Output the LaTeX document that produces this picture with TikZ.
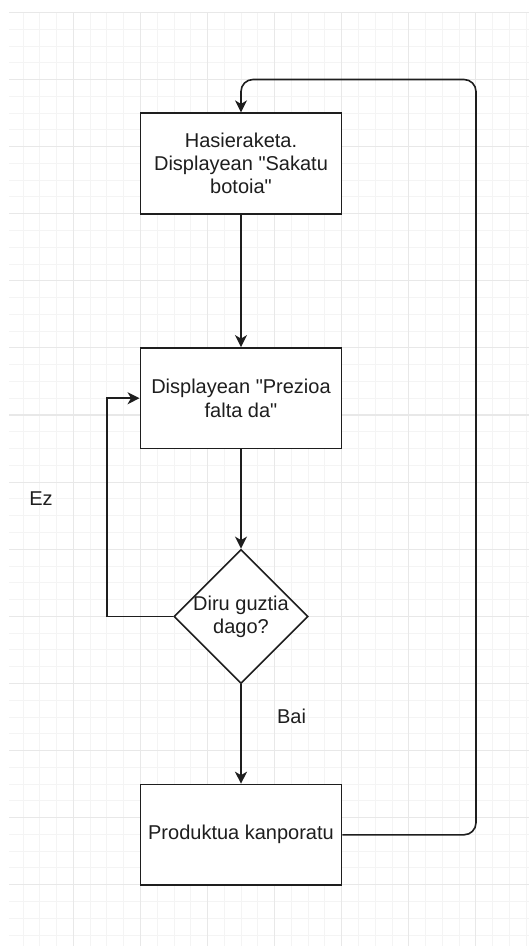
\documentclass[tikz,border=0pt]{standalone}
\usepackage{fontspec}
\setmainfont{Liberation Sans}
\newfontfamily\lsans{Liberation Sans}
\usetikzlibrary{arrows.meta,shapes.geometric}
\definecolor{gridminor}{HTML}{F4F4F4}
\definecolor{gridmajor}{HTML}{E8E8E8}
\definecolor{ink}{HTML}{1E1E1E}
\tikzset{
  gminor/.style={draw=gridminor, line width=0.9pt},
  gmajor/.style={draw=gridmajor, line width=1.1pt},
  boxstyle/.style={draw=ink, line width=1.6pt, fill=white, rectangle,
    minimum width=201.3pt, minimum height=100.6pt, inner sep=0pt,
    align=center, text=ink, font=\lsans\fontsize{20}{23.3}\selectfont},
  diastyle/.style={draw=ink, line width=1.6pt, fill=white, diamond,
    minimum width=134.2pt, minimum height=134.2pt, inner sep=0pt},
  txt/.style={align=center, text=ink, inner sep=0pt, font=\lsans\fontsize{20}{23.3}\selectfont},
  conn/.style={draw=ink, line width=1.6pt, -{Stealth[length=12pt,width=12pt,inset=3.5pt]}},
}
\begin{document}
\begin{tikzpicture}[x=1pt,y=-1pt]
\useasboundingbox (0,0) rectangle (529,946);
\fill[white] (0,0) rectangle (529,946);
% grid
\begin{scope}
\clip (9,12) rectangle (529,946);
\foreach \i in {-3,...,27} { \path[gminor] ({73.3+16.775*\i},12) -- ++(0,934); }
\foreach \i in {-4,...,52} { \path[gminor] (9,{79.5+16.775*\i}) -- ++(520,0); }
\foreach \i in {-1,...,7} { \path[gmajor] ({73.3+67.1*\i},12) -- ++(0,934); }
\foreach \i in {-1,...,13} { \path[gmajor] (9,{79.5+67.1*\i}) -- ++(520,0); }
\end{scope}
% nodes
\node[boxstyle] (h) at (241,163.5) {Hasieraketa.\\Displayean "Sakatu\\botoia"};
\node[boxstyle] (b2) at (241,398.2) {Displayean "Prezioa\\falta da"};
\node[diastyle] (d) at (241,616.5) {};
\node[txt] (dt) at (d.center) {Diru guztia\\dago?};
\node[boxstyle] (p) at (241,834.8) {Produktua kanporatu};
\node[txt] (ez) at (41,499) {Ez};
\node[txt] (bai) at (291.5,716) {Bai};
\coordinate (rt) at (476,79.5);
\coordinate (lp) at (107,398.2);
% connectors
\draw[conn] (h) -- (b2);
\draw[conn] (b2) -- (d);
\draw[conn] (d) -- (p);
\draw[conn] (d.west) -| (lp) -- (b2.west);
\draw[conn, rounded corners=12pt] (p.east) -| (rt) -| (h.north);
\end{tikzpicture}
\end{document}
